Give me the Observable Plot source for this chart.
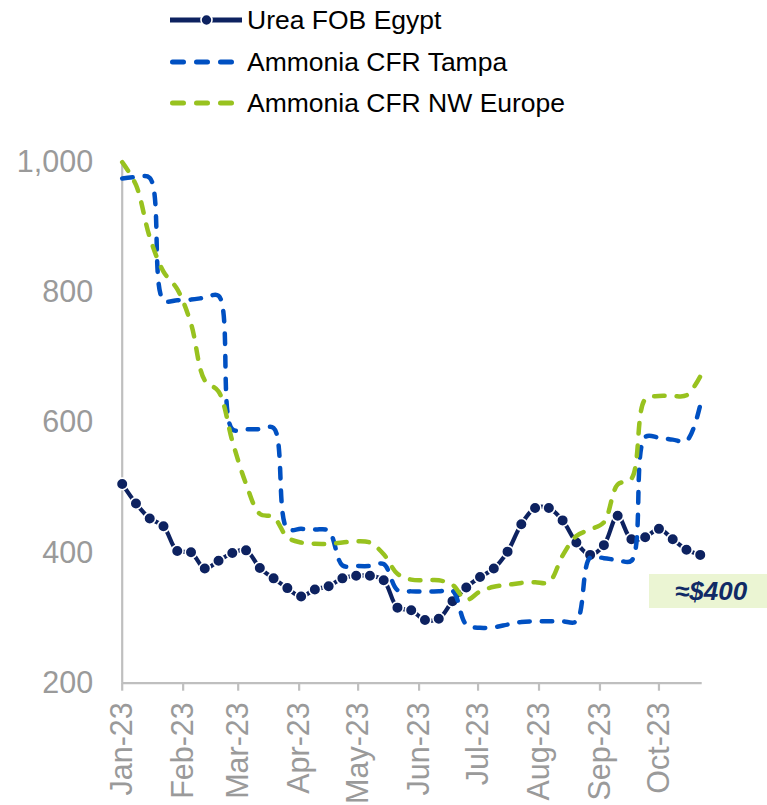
<!DOCTYPE html>
<html>
<head>
<meta charset="utf-8">
<script src="https://cdn.jsdelivr.net/npm/d3@7"></script>
<script src="https://cdn.jsdelivr.net/npm/@observablehq/plot@0.6"></script>
<style>
  html, body { margin: 0; padding: 0; background: #fff; overflow: hidden; }
  body { font-family: Arial, "Liberation Sans", sans-serif; }
  #wrap { position: relative; width: 767px; height: 805px; overflow: hidden; }
  #legend { position: relative; width: 767px; height: 130px; }
  .item { position: absolute; left: 168px; height: 26px; line-height: 26px; display: flex; align-items: center; font-size: 26.5px; color: #000; white-space: nowrap; }
  .item svg { display: block; margin-right: 5px; }
  #chart svg { display: block; }
  #note { position: absolute; left: 649px; top: 574px; width: 118px; height: 34px; line-height: 34px;
          background: #ebf5d3; color: #102a66; font-weight: bold; font-style: italic; font-size: 26px;
          padding-left: 26px; box-sizing: border-box; }
</style>
</head>
<body>
<div id="wrap">
  <div id="legend"></div>
  <div id="chart"></div>
  <div id="note"></div>
</div>
<script>
// ---- data (weekly) ----
const dates = [
  "2023-01-01","2023-01-08","2023-01-15","2023-01-22","2023-01-29",
  "2023-02-05","2023-02-12","2023-02-19","2023-02-26",
  "2023-03-05","2023-03-12","2023-03-19","2023-03-26",
  "2023-04-02","2023-04-09","2023-04-16","2023-04-23","2023-04-30",
  "2023-05-07","2023-05-14","2023-05-21","2023-05-28",
  "2023-06-04","2023-06-11","2023-06-18","2023-06-25",
  "2023-07-02","2023-07-09","2023-07-16","2023-07-23","2023-07-30",
  "2023-08-06","2023-08-13","2023-08-20","2023-08-27",
  "2023-09-03","2023-09-10","2023-09-17","2023-09-24",
  "2023-10-01","2023-10-08","2023-10-15","2023-10-22"
];
const ureaEgypt = [
  506,476,453,441,403, 401,376,388,400,404, 377,361,346,333,344,
  349,361,365,365,358, 316,312,297,299,326, 347,363,376,402,444,
  469,469,450,416,397, 412,457,421,424,437, 421,405,397
];
const ammoniaTampa = [
  975,977,976,788,788, 789,792,795,590,590, 590,592,437,437,436,
  434,381,380,380,383, 343,341,341,341,342, 290,285,286,290,294,
  295,295,295,295,393, 392,389,388,578,577, 574,572,627
];
const ammoniaNWEurope = [
  1000,965,885,832,805, 752,665,648,572,506, 460,455,424,416,414,
  414,416,418,416,398, 368,359,358,358,351, 328,341,348,351,354,
  355,355,396,426,436, 447,505,514,636,641, 641,642,671
];
const seriesNames = ["Urea FOB Egypt", "Ammonia CFR Tampa", "Ammonia CFR NW Europe"];
const seriesColors = ["#0d2260", "#0050c2", "#98c21f"];
const yTicks = [200, 400, 600, 800, 1000];
const monthTicks = ["2023-01-01","2023-02-01","2023-03-01","2023-04-01","2023-05-01",
                    "2023-06-01","2023-07-01","2023-08-01","2023-09-01","2023-10-01"];
const monthLabels = ["Jan-23","Feb-23","Mar-23","Apr-23","May-23","Jun-23","Jul-23","Aug-23","Sep-23","Oct-23"];
const xDomain = ["2023-01-01", "2023-10-23"];
const noteText = "≈$400";

// ---- build rows ----
const parse = d3.utcParse("%Y-%m-%d");
const rows = (vals) => dates.map((d, i) => ({date: parse(d), value: vals[i]}));
const urea = rows(ureaEgypt), tampa = rows(ammoniaTampa), nwe = rows(ammoniaNWEurope);
const tickDates = monthTicks.map(parse);
const labelOf = new Map(tickDates.map((d, i) => [+d, monthLabels[i]]));

const dash = "10.5,12";
const axisGray = "#bfbfbf";
const textGray = "#9a9a9a";

const chart = Plot.plot({
  width: 767,
  height: 675,
  marginLeft: 121.7,
  marginRight: 65.3,
  marginTop: 31.7,
  marginBottom: 122.3,
  style: { fontFamily: "Arial, 'Liberation Sans', sans-serif", fontSize: "30.5px", background: "#fff", overflow: "visible" },
  x: { type: "utc", domain: xDomain.map(parse) },
  y: { domain: [200, 1000] },
  marks: [
    Plot.ruleX([parse(xDomain[0])], { stroke: axisGray, strokeWidth: 2.2 }),
    Plot.ruleY([200], { stroke: axisGray, strokeWidth: 2.2 }),
    Plot.axisX(tickDates, { tickSize: 8, tickFormat: () => "", stroke: axisGray, strokeWidth: 2.2, label: null }),
    Plot.axisX(tickDates, { tickSize: 0, tickPadding: 19, tickRotate: -90, tickFormat: (d) => labelOf.get(+d), fill: textGray, label: null }),
    Plot.axisY(yTicks, { tickSize: 0, tickPadding: 29, tickFormat: d3.format(","), fill: textGray, label: null }),
    Plot.line(urea, { x: "date", y: "value", stroke: seriesColors[0], strokeWidth: 4.2, curve: "catmull-rom" }),
    Plot.dot(urea, { x: "date", y: "value", r: 5.8, fill: seriesColors[0], stroke: "#fff", strokeWidth: 1.6 }),
    Plot.line(tampa, { x: "date", y: "value", stroke: seriesColors[1], strokeWidth: 4.5, strokeDasharray: dash, strokeLinecap: "round", strokeLinejoin: "round", curve: "catmull-rom" }),
    Plot.line(nwe, { x: "date", y: "value", stroke: seriesColors[2], strokeWidth: 4.5, strokeDasharray: dash, strokeLinecap: "round", strokeLinejoin: "round", curve: "catmull-rom" })
  ]
});
document.getElementById("chart").appendChild(chart);

// ---- legend ----
const legend = document.getElementById("legend");
const rowCenters = [20, 62, 103];
seriesNames.forEach((name, i) => {
  const item = document.createElement("div");
  item.className = "item";
  item.style.top = (rowCenters[i] - 13) + "px";
  let sw;
  if (i === 0) {
    sw = `<svg width="74" height="26"><line x1="2" y1="13" x2="74" y2="13" stroke="${seriesColors[0]}" stroke-width="5"/>` +
         `<circle cx="38.5" cy="13" r="5.5" fill="${seriesColors[0]}" stroke="#fff" stroke-width="1.6"/></svg>`;
  } else {
    sw = `<svg width="74" height="26"><line x1="4.5" y1="13" x2="68" y2="13" stroke="${seriesColors[i]}" stroke-width="5" stroke-linecap="round" stroke-dasharray="11,13"/></svg>`;
  }
  item.innerHTML = sw + `<span>${name}</span>`;
  legend.appendChild(item);
});

document.getElementById("note").textContent = noteText;
</script>
</body>
</html>
